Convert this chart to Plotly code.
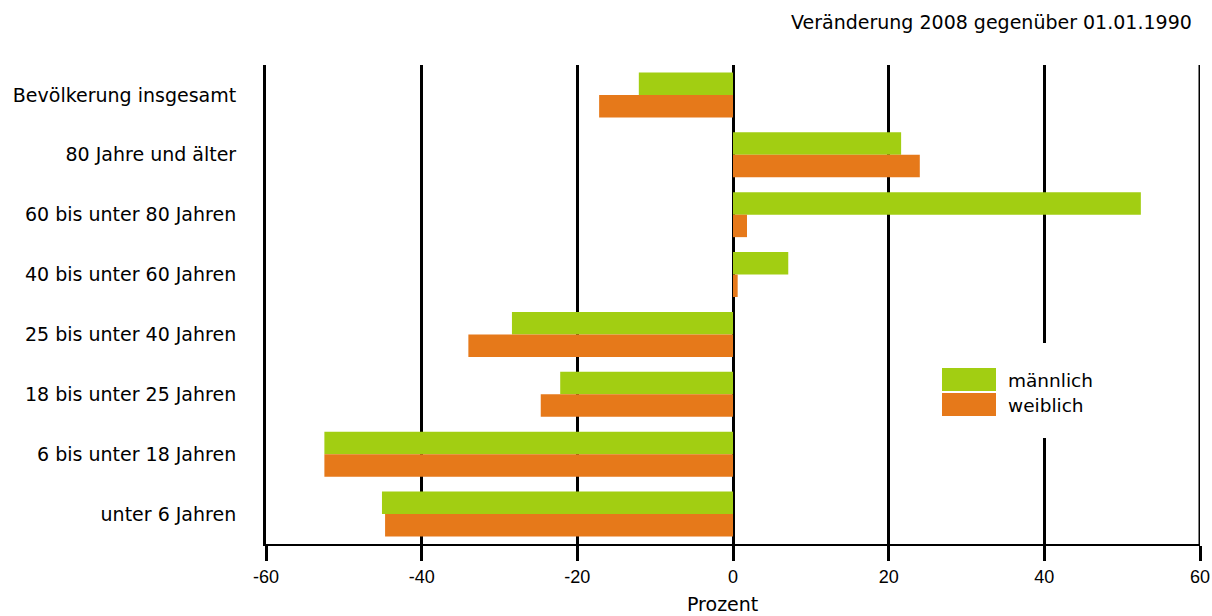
import plotly.graph_objects as go

categories = [
    "Bevölkerung insgesamt",
    "80 Jahre und älter",
    "60 bis unter 80 Jahren",
    "40 bis unter 60 Jahren",
    "25 bis unter 40 Jahren",
    "18 bis unter 25 Jahren",
    "6 bis unter 18 Jahren",
    "unter 6 Jahren",
]
maennlich = [-12.1, 21.6, 52.4, 7.1, -28.4, -22.2, -52.5, -45.1]
weiblich = [-17.2, 24.0, 1.8, 0.6, -34.0, -24.7, -52.5, -44.7]
tick_vals = [-60, -40, -20, 0, 20, 40, 60]
tick_text = ["-60", "-40", "-20", "0", "20", "40", "60"]
series_names = ["männlich", "weiblich"]
title_text = "Veränderung 2008 gegenüber 01.01.1990"
axis_title = "Prozent"

GREEN = "#A2CE12"
ORANGE = "#E6791A"
FONT = "DejaVu Sans"
TICKFONT = "Liberation Sans"
FS = 19

W, H = 1212, 616
L, T, R, B = 266, 65, 12, 72

fig = go.Figure()
fig.add_trace(go.Bar(y=categories, x=maennlich, orientation="h", name=series_names[0],
                     marker=dict(color=GREEN, line=dict(width=0))))
fig.add_trace(go.Bar(y=categories, x=weiblich, orientation="h", name=series_names[1],
                     marker=dict(color=ORANGE, line=dict(width=0))))

fig.update_layout(
    width=W, height=H,
    margin=dict(l=L, r=R, t=T, b=B, autoexpand=False),
    paper_bgcolor="white", plot_bgcolor="white",
    barmode="group", bargap=0.25, bargroupgap=0,
    showlegend=False,
    font=dict(family=FONT, size=FS, color="black"),
    xaxis=dict(
        range=[-60, 60], tickvals=tick_vals, ticktext=tick_text,
        showgrid=True, gridcolor="black", gridwidth=3,
        zeroline=True, zerolinecolor="black", zerolinewidth=3,
        showline=True, linecolor="black", linewidth=2,
        ticks="outside", ticklen=15, tickwidth=3, tickcolor="black",
        tickfont=dict(family=TICKFONT, size=18),
        automargin=False, fixedrange=True,
    ),
    yaxis=dict(
        categoryorder="array", categoryarray=categories, autorange="reversed",
        showgrid=False, zeroline=False,
        showline=True, linecolor="black", linewidth=3,
        ticks="", ticklabelstandoff=23,
        tickfont=dict(family=FONT, size=FS),
        automargin=False, fixedrange=True,
    ),
)

# gridline at the right end of the range (plotly drops gridlines on the range ends)
fig.add_shape(type="line", xref="x", yref="paper", x0=tick_vals[-1], x1=tick_vals[-1],
              y0=0, y1=1, layer="below", line=dict(color="black", width=3))

PW = W - L - R
PH = H - T - B

def px_x(p):
    return (p - L) / PW

def px_y(p):
    return (H - B - p) / PH

# title
fig.add_annotation(text=title_text, xref="paper", yref="paper",
                   x=px_x(1194), y=px_y(22),
                   xanchor="right", yanchor="middle", showarrow=False,
                   font=dict(family=FONT, size=FS))
# axis title
fig.add_annotation(text=axis_title, xref="paper", yref="paper",
                   x=px_x(722), y=px_y(604),
                   xanchor="center", yanchor="middle", showarrow=False,
                   font=dict(family=FONT, size=FS))

# legend (white background interrupting grid, colour boxes and labels)
fig.add_shape(type="rect", xref="paper", yref="paper", layer="above",
              x0=px_x(1030), x1=px_x(1060), y0=px_y(438), y1=px_y(343),
              fillcolor="white", line=dict(width=0))
for i, (name, col) in enumerate(zip(series_names, [GREEN, ORANGE])):
    top = 368 + i * 25
    fig.add_shape(type="rect", xref="paper", yref="paper", layer="above",
                  x0=px_x(942), x1=px_x(996), y0=px_y(top + 23), y1=px_y(top),
                  fillcolor=col, line=dict(width=0))
    fig.add_annotation(text=name, xref="paper", yref="paper",
                       x=px_x(1006), y=px_y(top + 12), xanchor="left", yanchor="middle",
                       showarrow=False, font=dict(family=FONT, size=18.5))

fig.write_html("out.html", config={"displayModeBar": False},
               post_script="document.body.style.margin='0px';")
